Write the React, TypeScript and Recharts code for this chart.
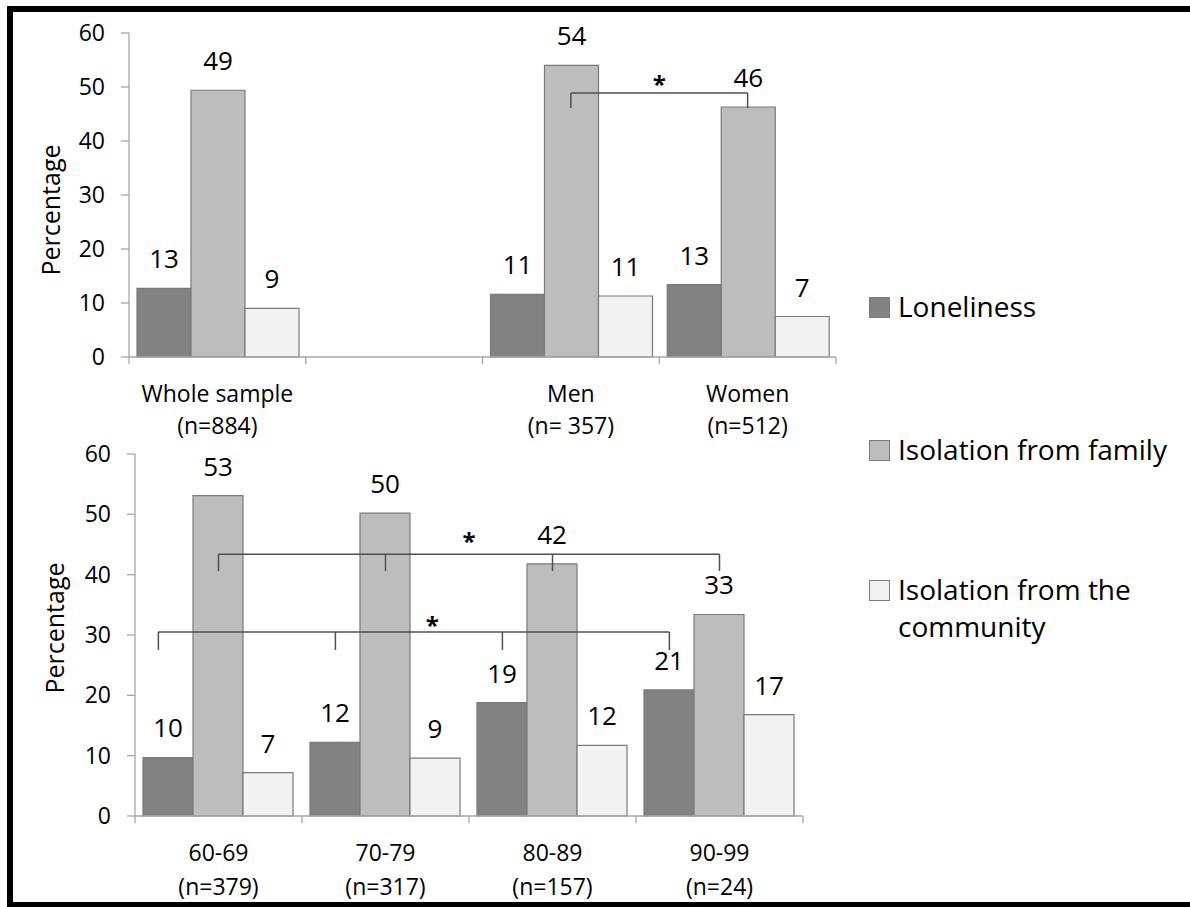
import { Bar, BarChart, LabelList, ReferenceDot, ReferenceLine, XAxis, YAxis } from "recharts";

const FONT = "'Open Sans', sans-serif";
const DARK = "#828282";
const MID = "#bdbdbd";
const LIGHT = "#f2f2f2";
const EDGE = "#7a7a7a";
const AXIS = "#a6a6a6";
const BRACKET = "#505050";

const SERIES = [
  { key: "loneliness", name: "Loneliness", color: DARK },
  { key: "family", name: "Isolation from family", color: MID },
  { key: "community", name: "Isolation from the\ncommunity", color: LIGHT },
];

const Y_TICKS = [0, 10, 20, 30, 40, 50, 60];

// top panel: whole sample and gender
const TOP_CATS = ["Whole sample\n(n=884)", " ", "Men\n(n= 357)", "Women\n(n=512)"];
const TOP_LONELINESS = [12.7, null, 11.6, 13.4];
const TOP_FAMILY = [49.4, null, 54.0, 46.3];
const TOP_COMMUNITY = [9.0, null, 11.3, 7.5];
const TOP_LONELINESS_LBL = ["13", "", "11", "13"];
const TOP_FAMILY_LBL = ["49", "", "54", "46"];
const TOP_COMMUNITY_LBL = ["9", "", "11", "7"];

// bottom panel: age groups
const AGE_CATS = ["60-69\n(n=379)", "70-79\n(n=317)", "80-89\n(n=157)", "90-99\n(n=24)"];
const AGE_LONELINESS = [9.7, 12.2, 18.8, 20.9];
const AGE_FAMILY = [53.1, 50.2, 41.8, 33.4];
const AGE_COMMUNITY = [7.2, 9.6, 11.7, 16.8];
const AGE_LONELINESS_LBL = ["10", "12", "19", "21"];
const AGE_FAMILY_LBL = ["53", "50", "42", "33"];
const AGE_COMMUNITY_LBL = ["7", "9", "12", "17"];

// significance brackets, x in category units (0 = left edge of first group)
const TOP_BRACKETS = [{ y: 48.9, drop: 46.1, xs: [2.5, 3.5] }];
const AGE_BRACKETS = [
  { y: 43.4, drop: 40.6, xs: [0.5, 1.5, 2.5, 3.5] },
  { y: 30.5, drop: 27.5, xs: [0.14, 1.2, 2.2, 3.2] },
];
const TOP_STARS = [{ x: 3.0, y: 50.6 }];
const AGE_STARS = [
  { x: 2.0, y: 45.6 },
  { x: 1.78, y: 31.8 },
];
const BOUNDS = [0, 1, 2, 3, 4];

function build(cats: string[], l: any[], f: any[], c: any[], ll: string[], fl: string[], cl: string[]) {
  return cats.map((name, i) => ({
    name,
    slot: i + 0.5,
    loneliness: l[i],
    family: f[i],
    community: c[i],
    lonelinessLabel: ll[i],
    familyLabel: fl[i],
    communityLabel: cl[i],
  }));
}

const topData = build(TOP_CATS, TOP_LONELINESS, TOP_FAMILY, TOP_COMMUNITY, TOP_LONELINESS_LBL, TOP_FAMILY_LBL, TOP_COMMUNITY_LBL);
const ageData = build(AGE_CATS, AGE_LONELINESS, AGE_FAMILY, AGE_COMMUNITY, AGE_LONELINESS_LBL, AGE_FAMILY_LBL, AGE_COMMUNITY_LBL);

function CategoryTick(props: any) {
  const { x, y, payload, gap, first } = props;
  const lines = String(payload.value).split("\n");
  return (
    <g>
      {lines.map((line, i) => (
        <text
          key={i}
          x={x}
          y={y + first + i * gap}
          textAnchor="middle"
          dominantBaseline="central"
          fontFamily={FONT}
          fontSize={23}
          fill="#000"
        >
          {line}
        </text>
      ))}
    </g>
  );
}

function yLabel(dx: number, shift: number) {
  return (props: any) => {
    const vb = props.viewBox;
    const cx = vb.x + dx;
    const cy = vb.y + vb.height / 2 + shift;
    return (
      <text
        x={cx}
        y={cy}
        transform={`rotate(-90 ${cx} ${cy})`}
        textAnchor="middle"
        dominantBaseline="central"
        fontFamily={FONT}
        fontSize={25}
        fill="#000"
      >
        Percentage
      </text>
    );
  };
}

function Star(props: any) {
  return (
    <text
      x={props.cx}
      y={props.cy}
      textAnchor="middle"
      dominantBaseline="central"
      fontFamily={FONT}
      fontSize={24}
      fontWeight="bold"
      fill="#000"
    >
      *
    </text>
  );
}

type PanelProps = {
  data: any[];
  top: number;
  width: number;
  height: number;
  margin: { top: number; right: number; left: number; bottom: number };
  yWidth: number;
  xHeight: number;
  lineFirst: number;
  lineGap: number;
  labelDx: number;
  labelShift: number;
  tickDrop: number;
  brackets: { y: number; drop: number; xs: number[] }[];
  stars: { x: number; y: number }[];
};

function Panel(p: PanelProps) {
  return (
    <div style={{ position: "absolute", left: 0, top: p.top, width: p.width, height: p.height }}>
      <BarChart width={p.width} height={p.height} data={p.data} margin={p.margin} barCategoryGap={8} barGap={0}>
        <XAxis
          dataKey="name"
          interval={0}
          height={p.xHeight}
          tickLine={false}
          tickSize={0}
          tickMargin={0}
          axisLine={{ stroke: AXIS, strokeWidth: 1.3 }}
          tick={(t: any) => <CategoryTick {...t} gap={p.lineGap} first={p.lineFirst} />}
        />
        <XAxis xAxisId="n" dataKey="slot" type="number" domain={[0, p.data.length]} hide allowDataOverflow />
        <YAxis
          width={p.yWidth}
          domain={[0, 60]}
          ticks={Y_TICKS}
          interval={0}
          tickSize={8}
          tickMargin={16}
          tick={{ fontFamily: FONT, fontSize: 23, fill: "#000" }}
          tickLine={{ stroke: AXIS, strokeWidth: 1.3 }}
          axisLine={{ stroke: AXIS, strokeWidth: 1.3 }}
          label={{ content: yLabel(p.labelDx, p.labelShift) }}
        />
        {SERIES.map((s) => (
          <Bar key={s.key} dataKey={s.key} fill={s.color} stroke={EDGE} strokeWidth={1.2} isAnimationActive={false}>
            <LabelList
              dataKey={s.key + "Label"}
              position="top"
              offset={20}
              fill="#000"
              fontFamily={FONT}
              fontSize={26}
            />
          </Bar>
        ))}
        {BOUNDS.map((b) => (
          <ReferenceLine
            key={"b" + b}
            xAxisId="n"
            ifOverflow="visible"
            segment={[
              { x: b, y: 0 },
              { x: b, y: -p.tickDrop },
            ]}
            stroke={AXIS}
            strokeWidth={1.3}
          />
        ))}
        {p.brackets.map((br, i) => [
          <ReferenceLine
            key={"h" + i}
            xAxisId="n"
            ifOverflow="visible"
            segment={[
              { x: Math.min(...br.xs), y: br.y },
              { x: Math.max(...br.xs), y: br.y },
            ]}
            stroke={BRACKET}
            strokeWidth={1.5}
          />,
          ...br.xs.map((x, j) => (
            <ReferenceLine
              key={"d" + i + "-" + j}
              xAxisId="n"
              ifOverflow="visible"
              segment={[
                { x, y: br.y },
                { x, y: br.drop },
              ]}
              stroke={BRACKET}
              strokeWidth={1.5}
            />
          )),
        ])}
        {p.stars.map((s, i) => (
          <ReferenceDot key={"s" + i} xAxisId="n" x={s.x} y={s.y} r={1} ifOverflow="visible" shape={<Star />} />
        ))}
      </BarChart>
    </div>
  );
}

function SideLegend() {
  const tops = [288, 431, 571];
  return (
    <>
      {SERIES.map((s, i) => (
        <div
          key={s.key}
          style={{
            position: "absolute",
            left: 869,
            top: tops[i],
            display: "flex",
            alignItems: "flex-start",
            fontFamily: FONT,
            fontSize: 28,
            lineHeight: "37px",
            color: "#000",
          }}
        >
          <span
            style={{
              display: "inline-block",
              width: 19,
              height: 19,
              background: s.color,
              border: `1px solid ${EDGE}`,
              marginTop: 9,
              marginRight: 8,
              flex: "none",
            }}
          />
          <span style={{ whiteSpace: "pre" }}>{s.name}</span>
        </div>
      ))}
    </>
  );
}

export default function App() {
  return (
    <div style={{ position: "absolute", left: 0, top: 0, width: 1190, height: 907, background: "#fff", overflow: "hidden" }}>
      <div
        style={{
          position: "absolute",
          left: 7,
          top: 6,
          width: 1183,
          height: 901,
          boxSizing: "border-box",
          borderLeft: "6px solid #000",
          borderTop: "6px solid #000",
          borderBottom: "5px solid #000",
        }}
      />
      <Panel
        data={topData}
        top={0}
        width={850}
        height={440}
        margin={{ top: 33, right: 14, left: 0, bottom: 0 }}
        yWidth={129}
        xHeight={83}
        lineFirst={36}
        lineGap={32}
        labelDx={50}
        labelShift={15}
        tickDrop={1.3}
        brackets={TOP_BRACKETS}
        stars={TOP_STARS}
      />
      <Panel
        data={ageData}
        top={430}
        width={850}
        height={477}
        margin={{ top: 24, right: 47, left: 0, bottom: 0 }}
        yWidth={135}
        xHeight={91}
        lineFirst={36}
        lineGap={34}
        labelDx={54}
        labelShift={-7}
        tickDrop={1.2}
        brackets={AGE_BRACKETS}
        stars={AGE_STARS}
      />
      <SideLegend />
    </div>
  );
}
